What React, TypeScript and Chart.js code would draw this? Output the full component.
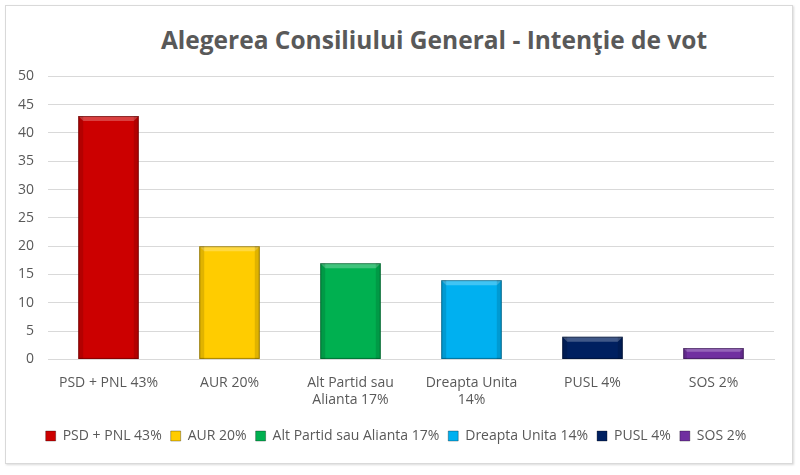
import React, { useEffect, useRef } from 'react';
import { Chart, registerables } from 'chart.js';

Chart.register(...registerables);

const categories: string[][] = [
  ['PSD + PNL 43%'],
  ['AUR 20%'],
  ['Alt Partid sau', 'Alianta 17%'],
  ['Dreapta Unita', '14%'],
  ['PUSL 4%'],
  ['SOS 2%'],
];
const legendNames = ['PSD + PNL 43%', 'AUR 20%', 'Alt Partid sau Alianta 17%', 'Dreapta Unita 14%', 'PUSL 4%', 'SOS 2%'];
const votes = [43, 20, 17, 14, 4, 2];
const barColors = ['#CC0000', '#FFCC00', '#00B050', '#00B0F0', '#002060', '#7030A0'];

const FONT = '"Open Sans", "Noto Sans", sans-serif';
const TEXT = '#595959';

// gives the bars a soft bevelled look like the office chart
const bevel = {
  id: 'bevel',
  afterDatasetsDraw(chart: Chart) {
    const ctx = chart.ctx;
    const meta = chart.getDatasetMeta(0);
    meta.data.forEach((el: any) => {
      const left = el.x - el.width / 2;
      const top = el.y;
      const h = el.base - el.y;
      const w = el.width;
      const b = Math.min(5, h / 3);
      ctx.save();
      ctx.fillStyle = 'rgba(255,255,255,0.25)';
      ctx.beginPath();
      ctx.moveTo(left, top);
      ctx.lineTo(left + w, top);
      ctx.lineTo(left + w - b, top + b);
      ctx.lineTo(left + b, top + b);
      ctx.closePath();
      ctx.fill();
      ctx.fillStyle = 'rgba(0,0,0,0.12)';
      ctx.fillRect(left, top, b, h);
      ctx.fillRect(left + w - b, top, b, h);
      ctx.strokeStyle = 'rgba(0,0,0,0.35)';
      ctx.lineWidth = 1;
      ctx.strokeRect(left + 0.5, top + 0.5, w - 1, h - 1);
      ctx.restore();
    });
  },
};

export default function App() {
  const canvasRef = useRef<HTMLCanvasElement>(null);

  useEffect(() => {
    if (!canvasRef.current) return;
    document.body.style.margin = '0';
    const chart = new Chart(canvasRef.current, {
      type: 'bar',
      data: {
        labels: categories,
        datasets: [
          {
            label: 'Intentie de vot',
            data: votes,
            backgroundColor: barColors,
            borderWidth: 0,
            categoryPercentage: 1,
            barPercentage: 0.5,
          },
        ],
      },
      options: {
        animation: false,
        responsive: true,
        maintainAspectRatio: false,
        layout: { padding: { left: 12, right: 18, top: 0, bottom: 10 } },
        scales: {
          x: {
            grid: { display: false },
            border: { color: '#D9D9D9' },
            ticks: { color: TEXT, font: { family: FONT, size: 14 }, maxRotation: 0, padding: 7 },
            afterFit: (scale: any) => {
              scale.height += 5;
            },
          },
          y: {
            min: 0,
            max: 50,
            ticks: { stepSize: 5, color: TEXT, font: { family: FONT, size: 14 }, padding: 14 },
            grid: { color: '#D9D9D9', drawTicks: false },
            border: { display: false },
            afterFit: (scale: any) => {
              scale.width = 30;
            },
          },
        },
        plugins: {
          title: { display: false },
          legend: {
            position: 'bottom',
            labels: {
              color: TEXT,
              font: { family: FONT, size: 14 },
              boxWidth: 10,
              boxHeight: 10,
              padding: 9,
              generateLabels: () =>
                legendNames.map((name, i) => ({
                  text: name,
                  fillStyle: barColors[i],
                  strokeStyle: 'rgba(0,0,0,0.3)',
                  lineWidth: 1,
                  hidden: false,
                  index: i,
                  fontColor: TEXT,
                })),
            },
          },
          tooltip: { enabled: false },
        },
      },
      plugins: [bevel],
    });
    return () => chart.destroy();
  }, []);

  return (
    <div style={{ position: 'absolute', left: 0, top: 0, width: 800, height: 475, background: '#fff' }}>
      <div
        style={{
          position: 'absolute',
          left: 5,
          top: 5,
          width: 786,
          height: 457,
          border: '1px solid #D9D9D9',
          boxShadow: '1px 1px 2px rgba(0,0,0,0.15)',
        }}
      >
        <div
          style={{
            position: 'absolute',
            left: 0,
            top: 18,
            width: 786,
            boxSizing: 'border-box',
            paddingLeft: 70,
            textAlign: 'center',
            fontFamily: FONT,
            fontWeight: 'bold',
            fontSize: 24.5,
            lineHeight: '32px',
            color: TEXT,
          }}
        >
          Alegerea Consiliului General - Intenţie de vot
        </div>
        <div style={{ position: 'absolute', left: 0, top: 48, width: 786, height: 409 }}>
          <canvas ref={canvasRef} />
        </div>
      </div>
    </div>
  );
}
